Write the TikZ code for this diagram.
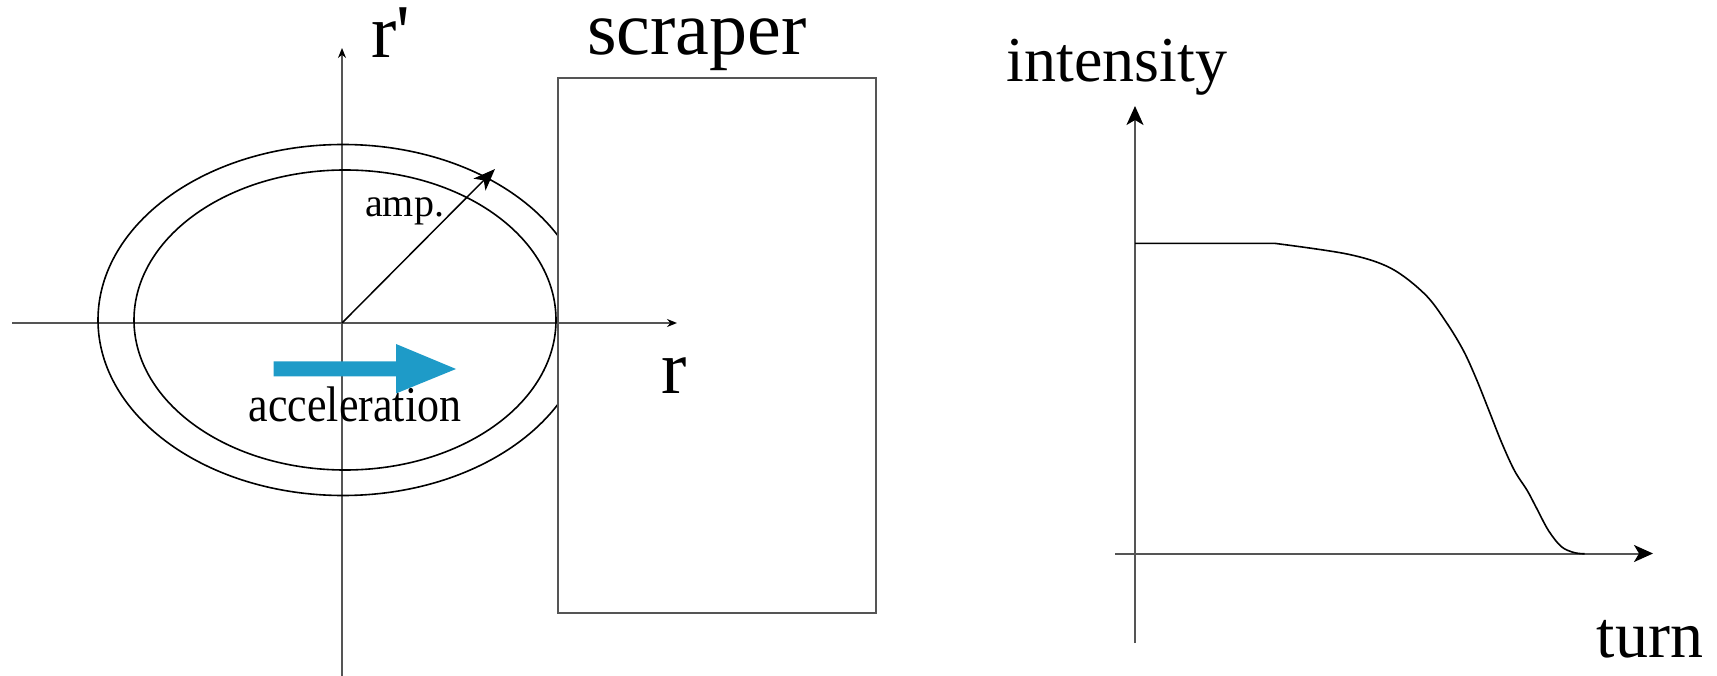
\documentclass[tikz,border=0pt]{standalone}
\usepackage{fontspec}
\setmainfont{Liberation Serif}
\usepackage{graphicx}
\usetikzlibrary{arrows.meta}
\definecolor{axisgray}{RGB}{85,85,85}
\definecolor{accblue}{RGB}{30,155,200}
\tikzset{
  axisline/.style={draw=axisgray, line width=2pt},
  smalltip/.style={-{Stealth[length=10pt,width=8pt,color=black]}},
  bigtip/.style={-{Stealth[length=19pt,width=17pt,inset=5pt,color=black]}},
  orbit/.style={draw=black, line width=1.6pt},
  lbl/.style={anchor=base west, inner sep=0pt, text=black},
}
\begin{document}
\begin{tikzpicture}[x=1pt,y=-1pt]
\useasboundingbox (0,0) rectangle (1717,676);
% ---------- left: phase space ----------
\coordinate (O) at (342,323);
\coordinate (vtop) at (342,48);
\coordinate (vbot) at (342,676);
\coordinate (hleft) at (12,323);
\coordinate (hright) at (677,323);
\draw[axisline, smalltip] (vbot) -- (vtop);
\draw[axisline, smalltip] (hleft) -- (hright);
\begin{scope}
  \clip (0,0) rectangle (557,676);
  \draw[orbit] (343,320) ellipse [x radius=245, y radius=175.5];
\end{scope}
\draw[orbit] (345,320) ellipse [x radius=211, y radius=150];
\node[draw=axisgray, line width=2pt, minimum width=318pt, minimum height=535pt, anchor=north west, inner sep=0pt] (scraper) at (557,77) {};
\coordinate (amptip) at (495,169);
\draw[line width=1.5pt, black, -{Stealth[length=22pt,width=17pt,inset=6pt]}] (O) -- (amptip);
\node[lbl, font=\fontsize{40}{44}\selectfont] (amp) at (365,216.5) {amp.};
% blue acceleration arrow
\fill[accblue] (273.5,361.5) -- (396,361.5) -- (396,344) -- (456,369) -- (396,393.5) -- (396,376.5) -- (273.5,376.5) -- cycle;
\node[lbl, font=\fontsize{50}{54}\selectfont] (acc) at (248.5,421.7) {\scalebox{0.88}[1]{acceleration}};
\node[lbl, font=\fontsize{76}{80}\selectfont] (rp) at (371,58) {r\textquotesingle};
\node[lbl, font=\fontsize{76}{80}\selectfont] (rlab) at (661.5,394) {r};
\node[anchor=base, inner sep=0pt, text height=0.46em, font=\fontsize{76}{80}\selectfont] (scrlab) at (697,55) {scraper};
% ---------- right: intensity vs turn ----------
\coordinate (ibot) at (1135,643);
\coordinate (itop) at (1135,106);
\coordinate (tleft) at (1115,553.5);
\coordinate (tright) at (1653,553.5);
\draw[axisline, bigtip] (ibot) -- (itop);
\draw[axisline, bigtip] (tleft) -- (tright);
\draw[line width=1.6pt, black] (1135,243.4) -- (1275,243.4)
  plot[smooth, tension=0.55] coordinates {(1275,243.4) (1348,254.2) (1391,268.3) (1425,294.3) (1446.3,322.3) (1463.3,350.4) (1476.1,378.4) (1488.9,410.4) (1501.6,442.5) (1514.4,470.5) (1527.2,490.5) (1535.7,506.5) (1548.5,530.6) (1561.3,546.6) (1574.1,552.6) (1584.7,553.8)};
\node[anchor=base, inner sep=0pt, font=\fontsize{64}{68}\selectfont] (inten) at (1117,82) {intensity};
\node[anchor=base, inner sep=0pt, font=\fontsize{66}{70}\selectfont] (turn) at (1650,657) {turn};
\end{tikzpicture}
\end{document}
